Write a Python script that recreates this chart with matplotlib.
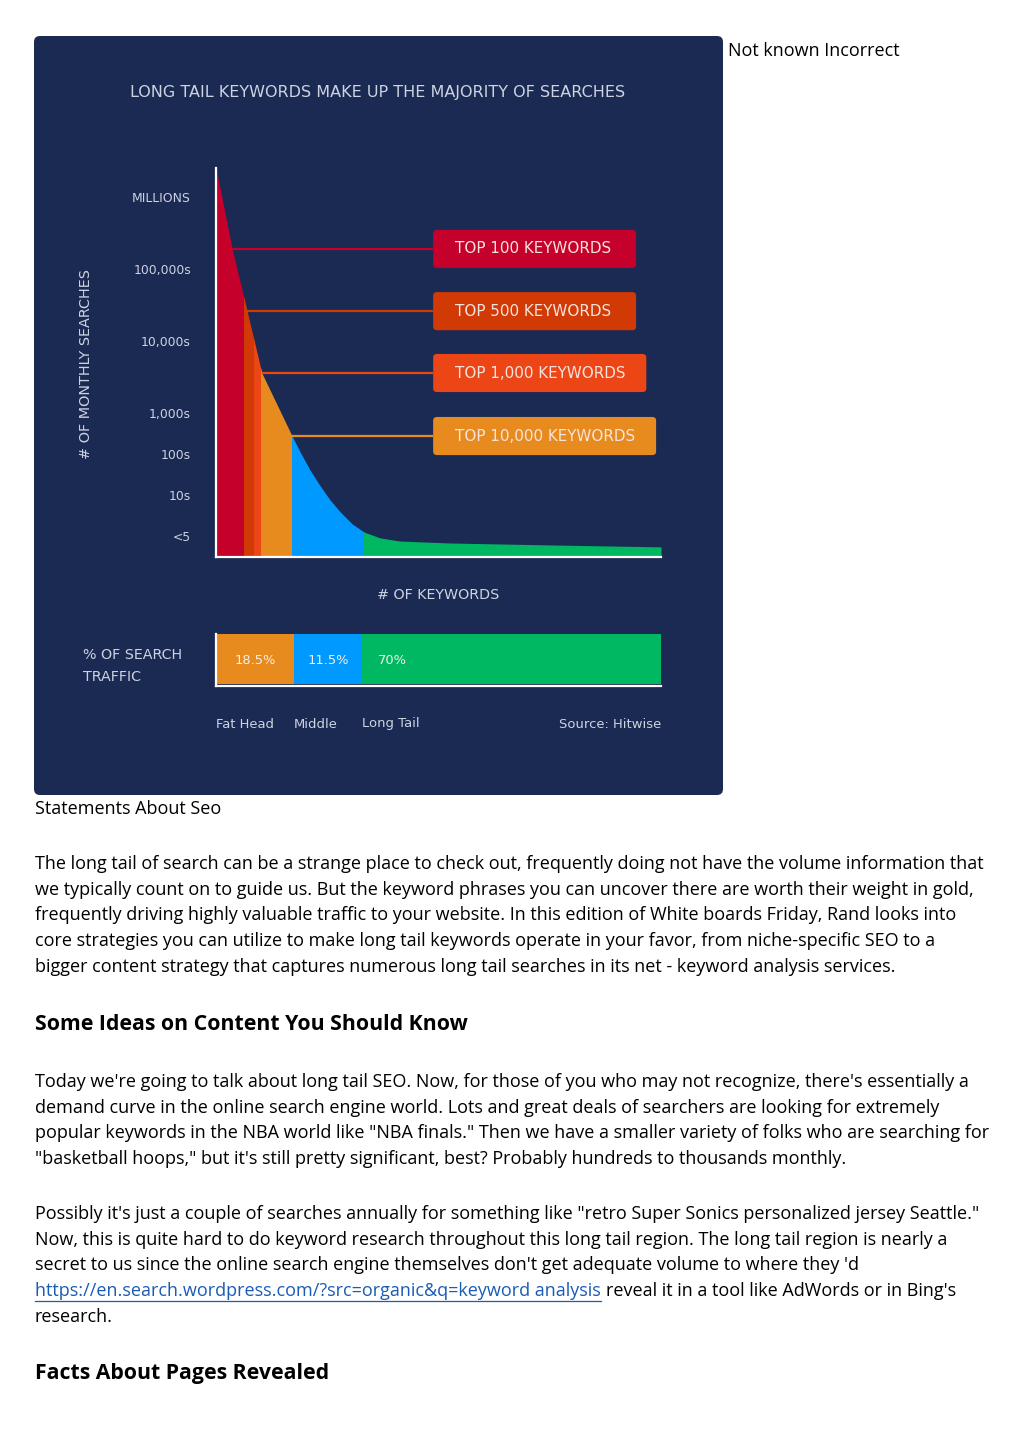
import numpy as np
import matplotlib.pyplot as plt
from matplotlib.patches import FancyBboxPatch, Rectangle

# Datos de la curva (posicion en % del eje de keywords, altura en % del eje)
curva_x = [0, 3.6, 7.0, 10.3, 17.1, 18.9, 21.1, 23.4, 25.6, 27.9, 30.6, 33.3, 36.9, 41.3, 52.6, 75.1, 100]
curva_y = [100, 79.4, 63.2, 47.3, 31.1, 27.0, 22.4, 18.3, 14.7, 11.6, 8.5, 6.4, 4.9, 4.1, 3.6, 3.1, 2.6]

# Tramos de color de la curva
tramos_inicio = [0, 6.3, 8.5, 10.1, 17.1, 33.3]
tramos_fin = [6.3, 8.5, 10.1, 17.1, 33.3, 100]
tramos_color = ['#C5002B', '#D13A05', '#EC4516', '#E88B1E', '#0099FF', '#00B862']

# Etiquetas del eje y
niveles_y = [92.5, 74.0, 55.5, 37.0, 26.5, 15.9, 5.4]
etiquetas_y = ['MILLIONS', '100,000s', '10,000s', '1,000s', '100s', '10s', '<5']

# Cajas de "top keywords"
cajas_texto = ['TOP 100 KEYWORDS', 'TOP 500 KEYWORDS', 'TOP 1,000 KEYWORDS', 'TOP 10,000 KEYWORDS']
cajas_y = [79.2, 63.2, 47.3, 31.1]
cajas_linea_x0 = [3.6, 7.0, 10.3, 17.1]
cajas_ancho = [45.6, 45.6, 47.9, 50.1]
cajas_color = ['#C5002B', '#D13A05', '#EC4516', '#E88B1E']

# Barra de % de trafico
trafico_nombres = ['Fat Head', 'Middle', 'Long Tail']
trafico_valores = ['18.5%', '11.5%', '70%']
trafico_inicio = [0, 17.5, 32.8]
trafico_ancho = [17.5, 15.3, 67.2]
trafico_color = ['#E88B1E', '#0099FF', '#00B862']

navy = '#1B2A53'
gris = '#CDD3E0'
fuente_chart = 'DejaVu Sans'
fuente_texto = 'Open Sans'

W, H = 1024, 1449
fig = plt.figure(figsize=(W / 100, H / 100), dpi=100)
fig.patch.set_facecolor('white')
r = fig.canvas.get_renderer()


def ajustar(t, ancho, vertical=False):
    # escala la fuente para que el texto ocupe el ancho en pixeles
    bb = t.get_window_extent(renderer=r)
    medido = bb.height if vertical else bb.width
    fs = t.get_fontsize() * ancho / medido
    t.set_fontsize(fs)
    return fs


# Fondo en coordenadas de pixel
bg = fig.add_axes([0, 0, 1, 1])
bg.set_xlim(0, W)
bg.set_ylim(H, 0)
bg.axis('off')
bg.add_patch(FancyBboxPatch((34, 36), 689, 759, boxstyle='round,pad=0,rounding_size=6',
                            facecolor=navy, edgecolor='none'))


def pos(x0, y0, w, h):
    return [x0 / W, (H - y0 - h) / H, w / W, h / H]


# Grafico principal
ax = fig.add_axes(pos(216, 168, 445, 389))
ax.set_xlim(0, 100)
ax.set_ylim(0, 100)
ax.set_facecolor('none')
for ini, fin, col in zip(tramos_inicio, tramos_fin, tramos_color):
    poly = ax.fill_between(curva_x, curva_y, 0, color=col, linewidth=0)
    poly.set_clip_path(Rectangle((ini, 0), fin - ini, 101, transform=ax.transData))

fs_caja = None
for y, x0, w, txt, col in zip(cajas_y, cajas_linea_x0, cajas_ancho, cajas_texto, cajas_color):
    ax.plot([x0, 48.8], [y, y], color=col, lw=1.6, solid_capstyle='butt')
    ax.add_patch(FancyBboxPatch((48.8, y - 4.9), w, 9.8, boxstyle='round,pad=0,rounding_size=0.9',
                                facecolor=col, edgecolor='none'))
    t = ax.text(53.6, y, txt, color='#F6E3DE', fontsize=fs_caja or 10, family=fuente_chart,
                va='center', ha='left')
    if fs_caja is None:
        fs_caja = ajustar(t, 156)

ax.set_xticks([])
ax.set_yticks(niveles_y)
etiq = ax.set_yticklabels(etiquetas_y, color=gris, fontsize=8.6, family=fuente_chart)
fs_tick = ajustar(etiq[1], 57)
for e in etiq:
    e.set_fontsize(fs_tick)
ax.tick_params(axis='y', length=0, pad=18)
for s in ['top', 'right']:
    ax.spines[s].set_visible(False)
for s in ['left', 'bottom']:
    ax.spines[s].set_color('white')
    ax.spines[s].set_linewidth(1.6)

# Barra de trafico
ab = fig.add_axes(pos(216, 634, 445, 52))
ab.set_xlim(0, 100)
ab.set_ylim(0, 1)
ab.set_facecolor('none')
ab.barh(0.52, trafico_ancho, left=trafico_inicio, height=0.96, color=trafico_color, linewidth=0)
for i, (ini, w, v) in enumerate(zip(trafico_inicio, trafico_ancho, trafico_valores)):
    if i < 2:
        ab.text(ini + w / 2, 0.5, v, color='#F3F0EA', fontsize=9.4, family=fuente_chart,
                ha='center', va='center')
    else:
        ab.text(ini + 3.5, 0.5, v, color='#F3F0EA', fontsize=9.4, family=fuente_chart,
                ha='left', va='center')
ab.set_xticks([])
ab.set_yticks([])
for s in ['top', 'right']:
    ab.spines[s].set_visible(False)
for s in ['left', 'bottom']:
    ab.spines[s].set_color('white')
    ab.spines[s].set_linewidth(1.6)

t = bg.text(661, 724, 'Source: Hitwise', color=gris, fontsize=9, family=fuente_chart,
            ha='right', va='center')
fs_nom = ajustar(t, 102)
for ini, nom in zip(trafico_inicio, trafico_nombres):
    bg.text(216 + ini / 100 * 445, 724, nom, color=gris, fontsize=fs_nom, family=fuente_chart,
            ha='left', va='center')

# Textos del panel
t = bg.text(378, 93, 'LONG TAIL KEYWORDS MAKE UP THE MAJORITY OF SEARCHES', color=gris,
            fontsize=10, family=fuente_chart, ha='center', va='center')
ajustar(t, 492)
t = bg.text(438, 595, '# OF KEYWORDS', color=gris, fontsize=9, family=fuente_chart,
            ha='center', va='center')
ajustar(t, 123)
t = bg.text(83, 655, '% OF SEARCH', color=gris, fontsize=9, family=fuente_chart,
            ha='left', va='center')
fs_pct = ajustar(t, 100)
bg.text(83, 677, 'TRAFFIC', color=gris, fontsize=fs_pct, family=fuente_chart,
        ha='left', va='center')
t = bg.text(86, 364, '# OF MONTHLY SEARCHES', color=gris, fontsize=9, family=fuente_chart,
            ha='center', va='center', rotation=90)
ajustar(t, 192, vertical=True)

# Texto de la pagina
cuerpo = 13.0
bg.text(728, 51, 'Not known Incorrect', fontsize=cuerpo, family=fuente_texto, va='center')
bg.text(35, 809, 'Statements About Seo', fontsize=cuerpo, family=fuente_texto, va='center')

parrafo1 = [
    'The long tail of search can be a strange place to check out, frequently doing not have the volume information that',
    'we typically count on to guide us. But the keyword phrases you can uncover there are worth their weight in gold,',
    'frequently driving highly valuable traffic to your website. In this edition of White boards Friday, Rand looks into',
    'core strategies you can utilize to make long tail keywords operate in your favor, from niche-specific SEO to a',
    'bigger content strategy that captures numerous long tail searches in its net - keyword analysis services.',
]
for i, linea in enumerate(parrafo1):
    bg.text(35, 864 + i * 25.7, linea, fontsize=cuerpo, family=fuente_texto, va='center')

bg.text(35, 1025, 'Some Ideas on Content You Should Know', fontsize=15.3, family=fuente_texto,
        weight='bold', va='center')

parrafo2 = [
    "Today we're going to talk about long tail SEO. Now, for those of you who may not recognize, there's essentially a",
    'demand curve in the online search engine world. Lots and great deals of searchers are looking for extremely',
    'popular keywords in the NBA world like "NBA finals." Then we have a smaller variety of folks who are searching for',
    '"basketball hoops," but it\'s still pretty significant, best? Probably hundreds to thousands monthly.',
]
for i, linea in enumerate(parrafo2):
    bg.text(35, 1082 + i * 25.7, linea, fontsize=cuerpo, family=fuente_texto, va='center')

parrafo3 = [
    'Possibly it\'s just a couple of searches annually for something like "retro Super Sonics personalized jersey Seattle."',
    'Now, this is quite hard to do keyword research throughout this long tail region. The long tail region is nearly a',
    "secret to us since the online search engine themselves don't get adequate volume to where they 'd",
]
for i, linea in enumerate(parrafo3):
    bg.text(35, 1214 + i * 25.7, linea, fontsize=cuerpo, family=fuente_texto, va='center')

enlace = bg.text(35, 1291, 'https://en.search.wordpress.com/?src=organic&q=keyword analysis',
                 fontsize=cuerpo, family=fuente_texto, va='center', color='#1A5BB5')
bb = enlace.get_window_extent(renderer=r)
x_fin = bb.x1
bg.plot([35, x_fin], [1301, 1301], color='#1A5BB5', lw=0.9)
bg.text(x_fin + 5, 1291, "reveal it in a tool like AdWords or in Bing's", fontsize=cuerpo,
        family=fuente_texto, va='center')
bg.text(35, 1317, 'research.', fontsize=cuerpo, family=fuente_texto, va='center')

bg.text(35, 1374, 'Facts About Pages Revealed', fontsize=15.3, family=fuente_texto,
        weight='bold', va='center')

fig.savefig('out.png', dpi=100, facecolor='white')
